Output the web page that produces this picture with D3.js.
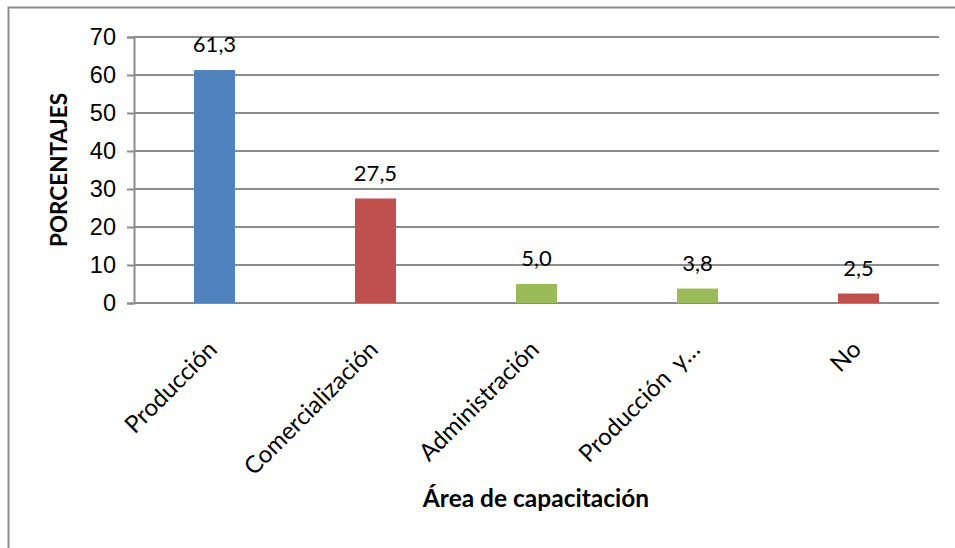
<!DOCTYPE html>
<html lang="es">
<head>
<meta charset="utf-8">
<title>Área de capacitación</title>
<script src="https://cdn.jsdelivr.net/npm/d3@7/dist/d3.min.js"></script>
<style>
  body { margin: 0; background: #fff; }
  svg { display: block; font-family: Lato, "Open Sans", sans-serif; }
</style>
</head>
<body>
<div id="vizContainer"></div>
<script>
// data
var categories = ["Producción", "Comercialización", "Administración", "Producción  y…", "No"];
var values = [61.3, 27.5, 5.0, 3.8, 2.5];
var barColors = ["#4F81BD", "#C0504D", "#9BBB59", "#9BBB59", "#C0504D"];
var yTicks = [0, 10, 20, 30, 40, 50, 60, 70];

var width = 955, height = 548;
var plot = { left: 134, right: 939, top: 37, bottom: 303 };

var svg = d3.select("#vizContainer").append("svg")
  .attr("width", width)
  .attr("height", height);

// outer chart frame (only top and left show in the picture)
svg.append("path")
  .attr("d", "M8.5," + height + " L8.5,7.5 L" + width + ",7.5")
  .attr("fill", "none")
  .attr("stroke", "#8c8c8c")
  .attr("stroke-width", 2);

var x = d3.scaleBand()
  .domain(categories)
  .range([plot.left, plot.right])
  .paddingInner(0.745)
  .paddingOuter(0.3725);

var y = d3.scaleLinear()
  .domain([0, 70])
  .range([plot.bottom, plot.top]);

// gridlines
svg.append("g").selectAll("line")
  .data(yTicks)
  .enter().append("line")
  .attr("x1", plot.left)
  .attr("x2", plot.right)
  .attr("y1", function(d) { return y(d); })
  .attr("y2", function(d) { return y(d); })
  .attr("stroke", "#8c8c8c")
  .attr("stroke-width", 2);

// y axis
var yAxis = svg.append("g")
  .attr("transform", "translate(" + plot.left + ",0)")
  .call(d3.axisLeft(y).tickValues(yTicks).tickSize(7).tickPadding(11).tickFormat(d3.format("d")));
yAxis.select(".domain").attr("stroke", "#8c8c8c").attr("stroke-width", 2);
yAxis.selectAll(".tick line").attr("stroke", "#8c8c8c").attr("stroke-width", 2);
yAxis.selectAll(".tick text").attr("font-size", 23.5).attr("fill", "#000");

// bars
svg.append("g").selectAll("rect")
  .data(values)
  .enter().append("rect")
  .attr("x", function(d, i) { return x(categories[i]); })
  .attr("y", function(d) { return y(d); })
  .attr("width", x.bandwidth())
  .attr("height", function(d) { return y(0) - y(d); })
  .attr("fill", function(d, i) { return barColors[i]; });

// value labels
svg.append("g").selectAll("text")
  .data(values)
  .enter().append("text")
  .attr("x", function(d, i) { return x(categories[i]) + x.bandwidth() / 2; })
  .attr("y", function(d) { return y(d) - 18; })
  .attr("text-anchor", "middle")
  .attr("font-size", 22)
  .text(function(d) { return d.toFixed(1).replace(".", ","); });

// category labels, rotated (keep the double space)
svg.append("g").selectAll("text")
  .data(categories)
  .enter().append("text")
  .attr("transform", function(d) {
    var cx = x(d) + x.bandwidth() / 2 + 4;
    return "translate(" + cx + "," + (plot.bottom + 48) + ") rotate(-45)";
  })
  .attr("text-anchor", "end")
  .attr("font-size", 24)
  .style("white-space", "pre")
  .text(function(d) { return d; });

// axis titles
svg.append("text")
  .attr("transform", "translate(67," + ((plot.top + plot.bottom) / 2) + ") rotate(-90)")
  .attr("text-anchor", "middle")
  .attr("font-size", 22.5)
  .attr("font-weight", "bold")
  .text("PORCENTAJES");

svg.append("text")
  .attr("x", 536)
  .attr("y", 507)
  .attr("text-anchor", "middle")
  .attr("font-size", 24.5)
  .attr("font-weight", "bold")
  .text("Área de capacitación");
</script>
</body>
</html>
